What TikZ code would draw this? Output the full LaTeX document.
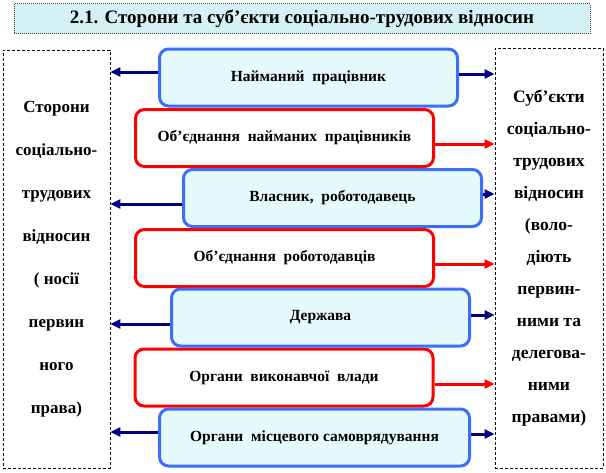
\documentclass[tikz,border=0pt]{standalone}
\usepackage{fontspec}
\setmainfont{Liberation Serif}
\usetikzlibrary{arrows.meta,calc}
\definecolor{boxblue}{RGB}{60,110,250}
\definecolor{boxfill}{RGB}{228,250,252}
\definecolor{titlefill}{RGB}{212,242,246}
\definecolor{navy}{RGB}{0,0,128}

\begin{document}
\begin{tikzpicture}[x=1pt, y=-1pt, rounded corners=9pt,
    bluebox/.style={draw=boxblue, fill=boxfill, line width=3pt, minimum width=298pt, minimum height=57pt, font=\bfseries\fontsize{15.5}{17}\selectfont},
    redbox/.style={draw=red, fill=white, line width=3pt, minimum width=298pt, minimum height=57pt, font=\bfseries\fontsize{15.5}{17}\selectfont},
    sidebox/.style={draw, densely dashed, sharp corners, line width=0.7pt, align=center},
    navyarr/.style={-{Triangle[length=10pt,width=9pt]}, draw=navy, line width=3pt},
    redarr/.style={-{Triangle[length=10pt,width=9pt]}, draw=red, line width=3pt}]
  \useasboundingbox (0,0) rectangle (606,472);
  \node [draw=darkgray, densely dotted, fill=titlefill, sharp corners, line width=1pt, minimum width=576pt, minimum height=30pt, font=\bfseries\fontsize{19}{22}\selectfont] (T) at (302,18.5) {2.1. Сторони та суб’єкти соціально-трудових відносин};
  \node [sidebox, minimum width=107pt, minimum height=418pt, font=\bfseries\fontsize{17}{43}\selectfont] (L) at (56.5,259) {Сторони\\соціально-\\трудових\\відносин\\( носії\\первин\\ного\\права)};
  \node [sidebox, minimum width=108pt, minimum height=420pt, font=\bfseries\fontsize{17.5}{32}\selectfont] (R) at (549,258) {Суб’єкти\\соціально-\\трудових\\відносин\\(воло-\\діють\\первин-\\ними та\\делегова-\\ними\\правами)};
  \node [redbox] (b2) at (284.5,138) {Об’єднання\ \ найманих\ \ працівників};
  \node [redbox] (b4) at (284.5,258) {Об’єднання\ \ роботодавців};
  \node [redbox] (b6) at (284,377.5) {Органи\ \ виконавчої\ \ влади};
  \node [bluebox] (b1) at (308.5,77.5) {Найманий\ \ працівник};
  \node [bluebox] (b3) at (332.5,198) {Власник,\ \ роботодавець};
  \node [bluebox] (b5) at (320.5,317.5) {Держава};
  \node [bluebox, minimum width=310pt] (b7) at (314.5,437.5) {Органи\ \ місцевого самоврядування};
  \foreach \b/\dy in {b1/5.5, b3/-6, b5/-6.5, b7/5.5}
    \draw [navyarr] ([yshift=\dy pt]\b.west) coordinate (s) -- (s -| L.east);
  \foreach \b/\dy in {b1/3.5, b3/4, b5/2.5, b7/3.5}
    \draw [navyarr] ([yshift=\dy pt]\b.east) coordinate (s) -- (s -| R.west);
  \foreach \b/\dy in {b2/-6, b4/-6, b6/-6.5}
    \draw [redarr] ([yshift=\dy pt]\b.east) coordinate (s) -- (s -| R.west);
\end{tikzpicture}
\end{document}
